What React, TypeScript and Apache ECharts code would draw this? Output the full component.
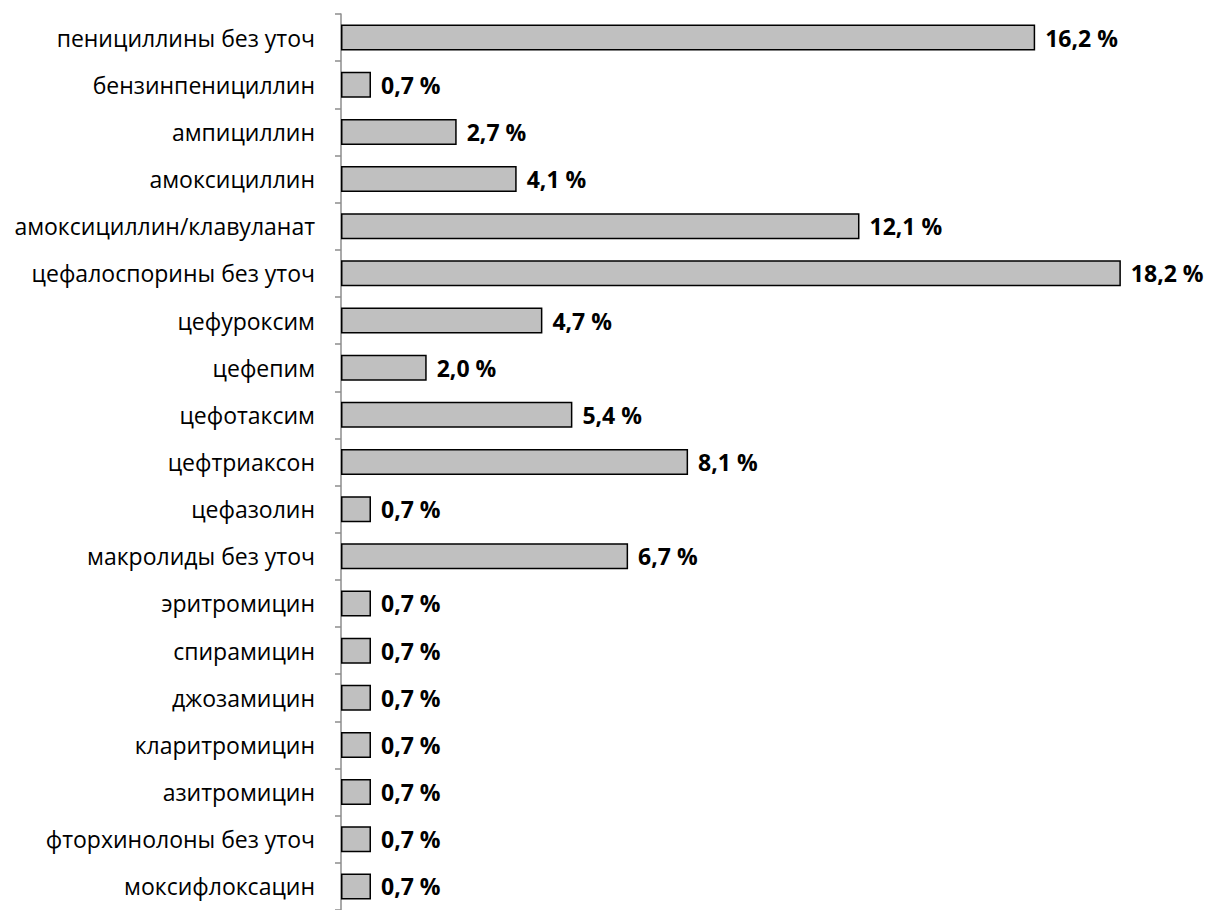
import React, { useEffect, useRef } from "react";
import * as echarts from "echarts";

const categories = [
  "пенициллины без уточ",
  "бензинпенициллин",
  "ампициллин",
  "амоксициллин",
  "амоксициллин/клавуланат",
  "цефалоспорины без уточ",
  "цефуроксим",
  "цефепим",
  "цефотаксим",
  "цефтриаксон",
  "цефазолин",
  "макролиды без уточ",
  "эритромицин",
  "спирамицин",
  "джозамицин",
  "кларитромицин",
  "азитромицин",
  "фторхинолоны без уточ",
  "моксифлоксацин",
];

const values = [16.2, 0.7, 2.7, 4.1, 12.1, 18.2, 4.7, 2.0, 5.4, 8.1, 0.7, 6.7, 0.7, 0.7, 0.7, 0.7, 0.7, 0.7, 0.7];

export default function App() {
  const ref = useRef<HTMLDivElement>(null);
  useEffect(() => {
    if (!ref.current) return;
    const chart = echarts.init(ref.current, undefined, { renderer: "svg" });
    chart.setOption({
      animation: false,
      backgroundColor: "#ffffff",
      grid: { left: 341, top: 14, width: 857, height: 900 },
      xAxis: {
        type: "value",
        min: 0,
        max: 20,
        show: false,
      },
      yAxis: {
        type: "category",
        data: categories,
        inverse: true,
        axisLine: { show: true, lineStyle: { color: "#8c8c8c", width: 1.5 } },
        axisTick: { show: true, length: 6, lineStyle: { color: "#8c8c8c", width: 1.5 } },
        axisLabel: {
          color: "#000000",
          fontSize: 23,
          fontFamily: "'Open Sans', 'Noto Sans', sans-serif",
          margin: 26,
        },
        splitLine: { show: false },
      },
      series: [
        {
          type: "bar",
          data: values,
          barWidth: 26,
          itemStyle: { color: "#c0c0c0", borderColor: "#000000", borderWidth: 1.5 },
          label: {
            show: true,
            position: "right",
            distance: 10,
            color: "#000000",
            fontSize: 23,
            fontWeight: "bold",
            fontFamily: "'Open Sans', 'Noto Sans', sans-serif",
            formatter: (p: any) => p.value.toFixed(1).replace(".", ",") + " %",
          },
        },
      ],
    });
    return () => chart.dispose();
  }, []);
  return (
    <div
      ref={ref}
      style={{ position: "fixed", left: 0, top: 0, width: 1219, height: 910, background: "#fff" }}
    />
  );
}
